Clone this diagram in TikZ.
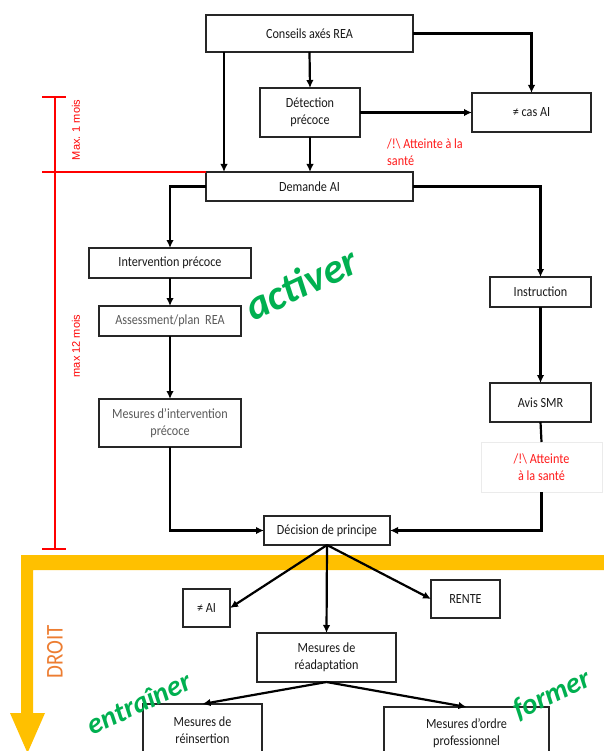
\documentclass[tikz,border=0pt]{standalone}
\usepackage{fontspec}
\setmainfont{Carlito}[FakeStretch=0.87]
\newfontfamily\greenfont{Carlito}
\newfontfamily\markfont{Liberation Sans}
\usetikzlibrary{arrows.meta}
\definecolor{gold}{HTML}{FFC000}
\definecolor{droitorange}{HTML}{ED7D31}
\definecolor{wordgreen}{HTML}{00B050}
\definecolor{alertred}{HTML}{FF1A1A}
\newcommand\bxfont{\fontsize{14}{17}\selectfont}
\tikzset{
  box/.style={draw=black!85, line width=1.2pt, fill=white, inner sep=2pt, outer sep=0pt, align=center, font=\bxfont, text=black!90},
  graybox/.style={box, text=black!65},
  arr/.style={line width=2.2pt, -{Latex[length=8pt,width=7.5pt]}},
  ln/.style={line width=2.2pt},
  redln/.style={draw=red, line width=2.4pt},
  greenword/.style={text=wordgreen, font=\greenfont\bfseries\itshape, rotate=25, inner sep=0pt},
  redmark/.style={text=red, font=\markfont\fontsize{11}{11}\selectfont, rotate=90, inner sep=0pt},
  alerttext/.style={text=alertred, font=\bxfont, inner sep=0pt}
}
\begin{document}
\begin{tikzpicture}[x=1pt,y=-1pt]
\clip (0,0) rectangle (604,751);
\fill[white] (0,0) rectangle (604,751);

% orange DROIT band
\fill[gold] (21,555) -- (604,555) -- (604,570) -- (33,570) -- (33,713) -- (45,713)
  -- (27.5,753) -- (10,713) -- (21,713) -- cycle;
\node[text=droitorange, font=\fontsize{24}{24}\selectfont, rotate=90, inner sep=0pt] (droit) at (55,652) {DROIT};

% nodes
\node[box, minimum width=207pt, minimum height=37pt] (conseils) at (309.5,33.5) {Conseils axés REA};
\node[box, minimum width=100pt, minimum height=49pt] (detect) at (310,112.5) {Détection\\précoce};
\node[box, minimum width=119pt, minimum height=39pt] (cas) at (531.5,112.5) {≠ cas AI};
\node[box, minimum width=207pt, minimum height=29pt] (demande) at (309.5,186.5) {Demande AI};
\node[box, minimum width=162pt, minimum height=30pt] (interv) at (170,263) {Intervention précoce};
\node[graybox, minimum width=142pt, minimum height=30pt] (assess) at (170,321) {Assessment/plan\ \ REA};
\node[graybox, minimum width=142pt, minimum height=48pt] (mesint) at (170,423) {Mesures d’intervention\\précoce};
\node[box, minimum width=101pt, minimum height=30pt] (instr) at (540.5,292) {Instruction};
\node[box, minimum width=101pt, minimum height=39pt] (avis) at (540.5,402.5) {Avis SMR};
\node[box, draw=black!8, line width=0.6pt, minimum width=121pt, minimum height=50pt, text=alertred] (warn) at (541.5,467) {/!\textbackslash\ Atteinte\\à la santé};
\node[box, minimum width=126pt, minimum height=29pt] (decision) at (327,530.5) {Décision de principe};
\node[box, minimum width=47pt, minimum height=38pt] (noai) at (206.5,608) {≠ AI};
\node[box, minimum width=69pt, minimum height=38pt] (rente) at (465.5,599) {RENTE};
\node[box, minimum width=139pt, minimum height=49pt] (readapt) at (326.5,657.5) {Mesures de\\réadaptation};
\node[box, minimum width=119pt, minimum height=52pt] (reins) at (202.5,730) {Mesures de\\réinsertion};
\node[box, minimum width=165pt, minimum height=53pt] (ordre) at (466.5,733.5) {Mesures d’ordre\\professionnel};

% red alert text near detection
\node[alerttext, anchor=west, align=left] (alert1) at (387,152) {/!\textbackslash\ Atteinte à la\\santé};

% green words
\node[greenword, font=\greenfont\bfseries\itshape\fontsize{42}{42}\selectfont] (activer) at (301,283) {activer};
\node[greenword, font=\greenfont\bfseries\itshape\fontsize{29}{29}\selectfont] (entrainer) at (139,703) {entraîner};
\node[greenword, font=\greenfont\bfseries\itshape\fontsize{29}{29}\selectfont] (former) at (552,695) {former};

% red time bracket
\coordinate (rtop) at (55,97);
\coordinate (rbot) at (55,549);
\coordinate (rmid) at (42,172);
\draw[redln] (rtop) -- (rbot);
\draw[redln] ([xshift=-13pt]rtop) -- ([xshift=11pt]rtop);
\draw[redln] ([xshift=-13pt]rbot) -- ([xshift=11pt]rbot);
\draw[redln] (rmid) -- (demande.north west);
\node[redmark] (m1) at (76,130) {Max. 1 mois};
\node[redmark] (m12) at (76,346) {max 12 mois};

% connectors
\draw[arr] ([xshift=18pt]conseils.south west) -- ([xshift=18pt]demande.north west);
\draw[arr] (conseils.south) -- (detect.north);
\draw[arr] (detect.south) -- (demande.north -| detect.south);
\draw[arr] (conseils.east) -| (cas.north);
\draw[arr] (detect.east) -- (cas.west);
\draw[arr] (demande.west) -| (interv.north);
\draw[arr] (demande.east) -| (instr.north);
\draw[arr] (interv.south) -- (assess.north);
\draw[arr] (assess.south) -- (mesint.north);
\draw[arr] (instr.south) -- (avis.north);
\draw[ln] (avis.south) -- (warn.north);
\draw[arr] (warn.south) |- (decision.east);
\draw[arr] (mesint.south) |- (decision.west);
\draw[arr] (decision.south) -- (noai.east);
\draw[arr] (decision.south) -- (readapt.north);
\draw[arr] (decision.south) -- (rente.west);
\draw[arr] (readapt.south) -- (reins.north);
\draw[arr] (readapt.south) -- (ordre.north);
\end{tikzpicture}
\end{document}
